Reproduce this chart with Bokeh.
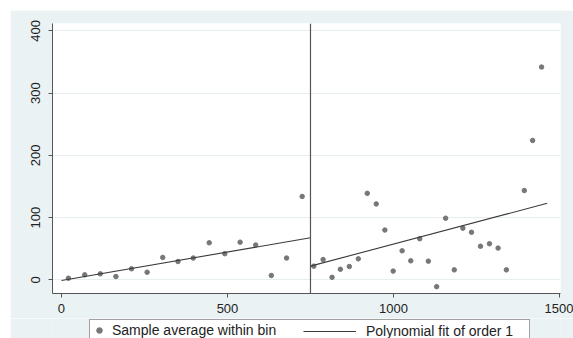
from bokeh.plotting import figure
from bokeh.models import ColumnDataSource, Legend, LegendItem, Span, FixedTicker, Range1d, Spacer
from bokeh.layouts import column, row
from bokeh.embed import file_html
from bokeh.resources import INLINE

# ---- data ----
cutoff = 750
left_x = [21, 70, 117, 164, 211, 258, 305, 351, 397, 445, 492, 538, 585, 632, 678, 725]
left_y = [2.6, 8, 9.6, 5.3, 17.7, 12.2, 36, 29.4, 35, 59.5, 42, 60.5, 56, 7, 35, 134]
right_x = [760, 788, 815, 840, 867, 894, 921, 948, 974, 999, 1026, 1052, 1079, 1105,
           1130, 1157, 1183, 1209, 1235, 1262, 1289, 1315, 1340, 1394, 1419, 1446]
right_y = [22, 32.6, 4, 17, 21.4, 33.7, 139, 122, 80, 14, 46.6, 30.5, 66, 30,
           -11, 99, 16, 83, 76.5, 54, 58, 51, 16, 143.5, 224, 342]
fit_left_x = [0, 750]
fit_left_y = [-1, 67.5]
fit_right_x = [750, 1463]
fit_right_y = [22, 123]
x_ticks = [0, 500, 1000, 1500]
y_ticks = [0, 100, 200, 300, 400]
legend_labels = ["Sample average within bin", "Polynomial fit of order 1"]

FONT = "Liberation Sans"
BG = "#EAF2F3"
PT = "#777777"
LN = "#3a3a3a"

p = figure(width=563, height=308,
           min_border_left=42, min_border_right=13, min_border_top=13, min_border_bottom=25,
           x_range=Range1d(-27, 1503), y_range=Range1d(-22, 412),
           output_backend="svg", toolbar_location=None,
           background_fill_color="white", border_fill_color=BG)
p.outline_line_color = None

pts_src = ColumnDataSource(dict(x=left_x + right_x, y=left_y + right_y))
p.scatter("x", "y", source=pts_src, size=4.5, color=PT, line_color=PT)
p.line(fit_left_x, fit_left_y, line_color=LN, line_width=1.1)
p.line(fit_right_x, fit_right_y, line_color=LN, line_width=1.1)

p.add_layout(Span(location=cutoff, dimension="height", line_color="#555555", line_width=1.2))

for ax in (p.xaxis[0], p.yaxis[0]):
    ax.axis_line_color = "#555555"
    ax.major_tick_line_color = "#555555"
    ax.major_tick_out = 4
    ax.major_tick_in = 0
    ax.minor_tick_line_color = None
    ax.major_label_text_font = FONT
    ax.major_label_text_font_size = "13px"
    ax.major_label_text_color = "#222222"
p.xaxis[0].ticker = FixedTicker(ticks=x_ticks)
p.yaxis[0].ticker = FixedTicker(ticks=y_ticks)
p.yaxis[0].major_label_orientation = "vertical"
p.yaxis[0].major_label_standoff = 8
p.xaxis[0].major_label_standoff = 6

p.xgrid.grid_line_color = None
p.ygrid.grid_line_color = "#e6eef0"
p.ygrid.ticker = FixedTicker(ticks=y_ticks)

# ---- legend strip below the plot ----
lf = figure(width=563, height=20, min_border=0,
            x_range=Range1d(0, 1), y_range=Range1d(0, 1),
            x_axis_location=None, y_axis_location=None,
            output_backend="svg", toolbar_location=None,
            background_fill_color=BG, border_fill_color=BG)
lf.outline_line_color = None
lf.grid.visible = False
# legend-only renderers, kept outside the visible ranges
dsc = lf.scatter(x=[-10], y=[-10], size=4.5, color=PT, line_color=PT)
dln = lf.line(x=[-10, -9], y=[-10, -10], line_color=LN, line_width=1.1)

common = dict(orientation="horizontal", glyph_height=14, label_height=14,
              padding=2, margin=0, spacing=0, border_line_color="#444444", border_line_width=1,
              label_text_font=FONT, label_text_font_size="14px", label_text_color="#222222")
legA = Legend(items=[LegendItem(label=legend_labels[0], renderers=[dsc])],
              location=(37, -3), glyph_width=14, label_width=415, label_standoff=6,
              background_fill_color="white", background_fill_alpha=1.0, **common)
legB = Legend(items=[LegendItem(label=legend_labels[1], renderers=[dln])],
              location=(249, -3), glyph_width=53, label_standoff=10,
              border_line_alpha=0.0, background_fill_alpha=0.0, **common)
lf.add_layout(legA, "center")
lf.add_layout(legB, "center")

layout = column(Spacer(height=10, width=573),
                row(Spacer(width=10, height=328), column(p, lf)))

open("out.html", "w").write(file_html(layout, INLINE))
